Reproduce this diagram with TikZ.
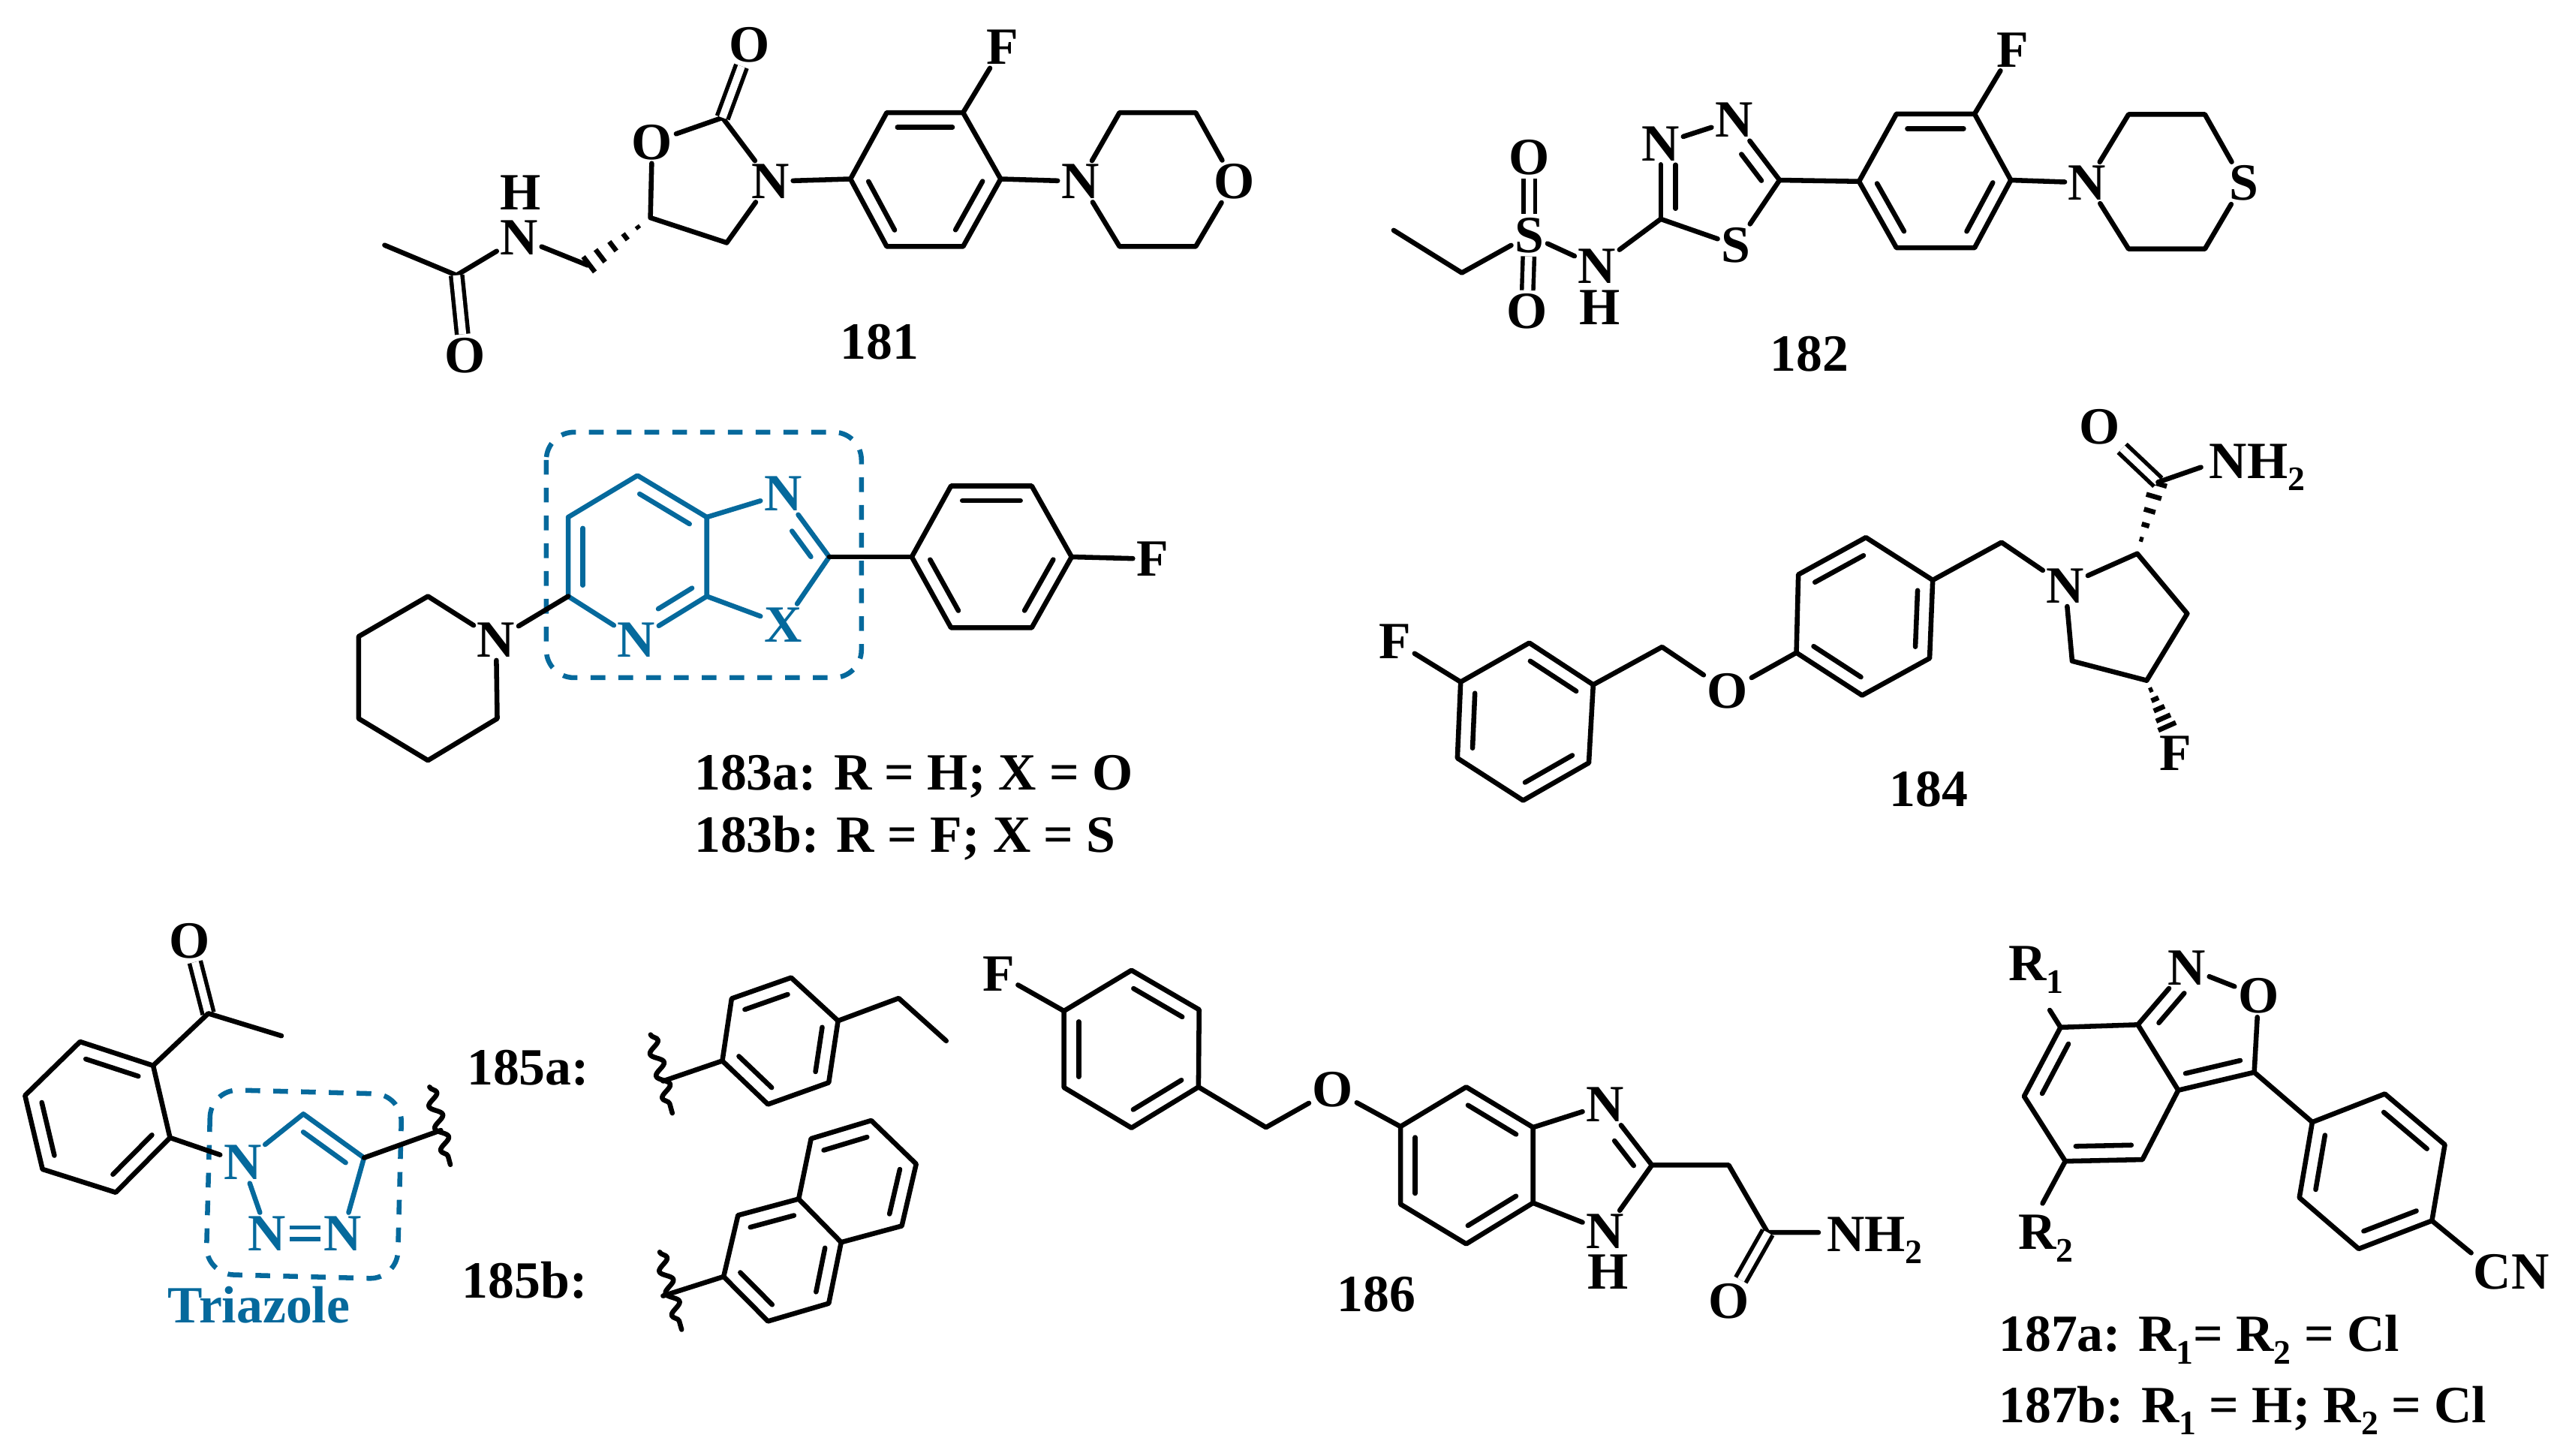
\documentclass[tikz,border=0pt]{standalone}
\usepackage{fontspec}
\setmainfont{Liberation Serif}
\usetikzlibrary{calc,decorations.pathmorphing}
\definecolor{ringblue}{HTML}{05699C}
\tikzset{
  bond/.style={line width=3pt,line join=round,line cap=round},
  dbond/.style={bond,line width=2.5pt,double,double distance=4.5pt,line cap=butt},
  atom/.style={font=\fontsize{32}{32}\selectfont\bfseries,inner sep=2pt},
  txt/.style={font=\fontsize{32}{32}\selectfont\bfseries,inner sep=0pt},
  wavy/.style={bond,decorate,decoration={snake,segment length=14pt,amplitude=3.5pt}},
  dashbox/.style={line width=3pt,ringblue,dash pattern=on 9pt off 8pt,rounded corners=17pt}
}
\newcommand{\subs}[1]{\raisebox{-0.24em}{\fontsize{21}{21}\selectfont #1}}
\NewDocumentCommand{\innerbond}{O{.14} O{.86} m m}{
  \draw[bond] ($(#3)!#1!(#4)!9pt!-90:(#4)$) -- ($(#3)!#2!(#4)!9pt!-90:(#4)$);
}
\newcommand{\hashbond}[2]{
  \foreach \t in {.2,.4,.6,.8,.98}
    \draw[bond,line cap=butt] ($(#1)!\t!(#2)!{\t*6pt}!90:(#2)$) -- ($(#1)!\t!(#2)!{\t*6pt}!-90:(#2)$);
}
\begin{document}
\begin{tikzpicture}[x=1pt,y=-1pt]
\useasboundingbox (0,0) rectangle (1568,890.3);

% 181
\foreach \n/\px/\py in {a1/542.5/68.9,a2/589.2/68.9,a3/612.2/109.5,a4/589.2/150.8,a5/542.5/150.8,a6/520.3/109.5,
  b1/684.9/68.9,b2/731.5/68.9,b3/731.5/150.8,b4/684.9/150.8,
  c1/235.3/150,c2/279.3/168.4,c3/359.6/162.3,c4/397.9/133.2,c5/442/72,c6/444.6/148.5}
  \coordinate (\n) at (\px,\py);
\node[atom] (o1) at (284.3,217.4) {O};
\node[atom] (n1) at (317.6,145.4) {N};
\node[atom] (h1) at (318.3,117.9) {H};
\node[atom] (o2) at (399,87) {O};
\node[atom] (o3) at (458.4,27.6) {O};
\node[atom] (n2) at (471.4,111) {N};
\node[atom] (f1) at (613.3,29) {F};
\node[atom] (n3) at (660.8,111) {N};
\node[atom] (o4) at (754.9,111) {O};
\node[txt] (lab181) at (538,209) {181};
\draw[bond] (c1) -- (c2) -- (n1) -- (c3);
\draw[dbond] (c2) -- (o1);
\hashbond{c4}{c3}
\draw[bond] (o2) -- (c4) -- (c6) -- (n2) -- (c5) -- (o2);
\draw[dbond] (c5) -- (o3);
\draw[bond] (n2) -- (a6);
\draw[bond] (a1) -- (a2) -- (a3) -- (a4) -- (a5) -- (a6) -- cycle;
\innerbond{a1}{a2} \innerbond{a3}{a4} \innerbond{a5}{a6}
\draw[bond] (a2) -- (f1);
\draw[bond] (a3) -- (n3);
\draw[bond] (n3) -- (b1) -- (b2) -- (o4) -- (b3) -- (b4) -- (n3);

% 182
\foreach \n/\px/\py in {d1/1160.2/69.7,d2/1208/69.7,d3/1230.2/110.2,d4/1208/151.6,d5/1160.2/151.6,d6/1137.3/111,
  e1/1302.2/70,e2/1348.9/70,e3/1348.9/152.3,e4/1302.2/152.3,
  g1/852.6/140.9,g2/894.3/166.9,g3/1016/134,g4/1088.7/110.2}
  \coordinate (\n) at (\px,\py);
\node[atom] (s1) at (935.6,143.9) {S};
\node[atom] (o5) at (935.6,96.5) {O};
\node[atom] (o6) at (934.1,190.6) {O};
\node[atom] (n4) at (977,163) {N};
\node[atom] (h2) at (978.9,188) {H};
\node[atom] (n5) at (1016,88) {N};
\node[atom] (n6) at (1060.8,73.5) {N};
\node[atom] (s2) at (1061.9,150) {S};
\node[atom] (f2) at (1231.4,30.6) {F};
\node[atom] (n7) at (1276.9,111.8) {N};
\node[atom] (s3) at (1372.6,112) {S};
\node[txt] (lab182) at (1107,216.6) {182};
\draw[bond] (g1) -- (g2) -- (s1);
\draw[dbond] (s1) -- (o5);
\draw[dbond] (s1) -- (o6);
\draw[bond] (s1) -- (n4) -- (g3) -- (s2) -- (g4);
\draw[bond] (g3) -- (n5);
\draw[bond] (n5) -- (n6) -- (g4);
\innerbond[.14][.72]{g3}{n5} \innerbond[.42][.86]{n6}{g4}
\draw[bond] (g4) -- (d6);
\draw[bond] (d1) -- (d2) -- (d3) -- (d4) -- (d5) -- (d6) -- cycle;
\innerbond{d1}{d2} \innerbond{d3}{d4} \innerbond{d5}{d6}
\draw[bond] (d2) -- (f2);
\draw[bond] (d3) -- (n7);
\draw[bond] (n7) -- (e1) -- (e2) -- (s3) -- (e3) -- (e4) -- (n7);

% 183
\draw[dashbox] (334.2,264.4) rectangle (527,414.6);
\foreach \n/\px/\py in {i1/390/290.9,i2/432.4/316.4,i3/432.4/364.8,i4/347.6/364.8,i5/347.6/316.4,i6/507.3/340.7,
  j1/581.8/297.3,j2/631.2/297.3,j3/655.6/340.7,j4/631.2/384,j5/581.8/384,j6/557.8/340.7,
  k1/261.8/364.8,k2/219.4/389.4,k3/219.4/439.6,k4/261.8/465.2,k5/304.2/439.6}
  \coordinate (\n) at (\px,\py);
\begin{scope}[ringblue]
\node[atom] (n8) at (389.3,391.3) {N};
\node[atom] (n9) at (479,302.2) {N};
\node[atom] (x1) at (479,382.1) {X};
\draw[bond] (i5) -- (i1) -- (i2) -- (i3) -- (n8) -- (i4) -- (i5);
\innerbond{i1}{i2} \innerbond[.1][.58]{i3}{n8} \innerbond{i4}{i5}
\draw[bond] (i2) -- (n9) -- (i6) -- (x1) -- (i3);
\innerbond[.45][.86]{n9}{i6}
\end{scope}
\node[atom] (n10) at (303.5,391.3) {N};
\node[atom] (f3) at (705,342) {F};
\draw[bond] (i4) -- (n10);
\draw[bond] (i6) -- (j6);
\draw[bond] (j1) -- (j2) -- (j3) -- (j4) -- (j5) -- (j6) -- cycle;
\innerbond{j1}{j2} \innerbond{j3}{j4} \innerbond{j5}{j6}
\draw[bond] (j3) -- (f3);
\draw[bond] (n10) -- (k1) -- (k2) -- (k3) -- (k4) -- (k5) -- (n10);
\node[txt,anchor=base west] (lab183a) at (424.6,483.4) {183a: R = H; X = O};
\node[txt,anchor=base west] (lab183b) at (424.6,521.4) {183b: R = F; X = S};

% 184
\foreach \n/\px/\py in {l1/935.6/393.3,l2/974.7/418.9,l3/972/466.7,l4/931.8/489.7,l5/891.6/463.8,l6/893.6/417.2,
  m1/1100.2/351.5,m2/1141.5/328.8,m3/1182.4/354.9,m4/1180.5/402.7,m5/1139.2/425.4,m6/1099/399.3,
  q1/1016.8/395.8,q2/1224.5/331.8,q3/1307.5/338.7,q4/1338.1/375.4,q5/1313.3/416.3,q6/1267.7/404.4,
  q7/1320.2/295,q8/1326/445}
  \coordinate (\n) at (\px,\py);
\node[atom] (f4) at (853.4,392.4) {F};
\node[atom] (o7) at (1056.9,422.8) {O};
\node[atom] (n11) at (1263.5,358.3) {N};
\node[atom] (o8) at (1284.6,261.3) {O};
\node[atom] (f5) at (1330.9,460.7) {F};
\node[atom,anchor=base west,inner sep=5pt] (amid1) at (1346.5,292.5) {NH\subs{2}};
\node[txt] (lab184) at (1180,482.9) {184};
\draw[bond] (l1) -- (l2) -- (l3) -- (l4) -- (l5) -- (l6) -- cycle;
\innerbond{l1}{l2} \innerbond{l3}{l4} \innerbond{l5}{l6}
\draw[bond] (l6) -- (f4);
\draw[bond] (l2) -- (q1) -- (o7) -- (m6);
\draw[bond] (m1) -- (m2) -- (m3) -- (m4) -- (m5) -- (m6) -- cycle;
\innerbond{m1}{m2} \innerbond{m3}{m4} \innerbond{m5}{m6}
\draw[bond] (m3) -- (q2) -- (n11) -- (q3) -- (q4) -- (q5) -- (q6) -- (n11);
\hashbond{q3}{q7}
\draw[dbond] (q7) -- (o8);
\draw[bond] (q7) -- (amid1.west);
\hashbond{q5}{q8}

% 185
\foreach \n/\px/\py in {r1/49/637.3,r2/93.7/651.9,r3/104/696,r4/70.8/729.5,r5/26/715.3,r6/15.3/670.2,
  r7/127.4/620,r8/172.2/633.7,t1/185.6/681.5,t2/222.7/708.3,t3/269.7/691.5,
  w1/262.8/665,w2/275.5/712.5}
  \coordinate (\n) at (\px,\py);
\draw[dashbox,rotate around={-1.5:(186,725)}] (127.4,668) rectangle (244.5,781);
\node[atom] (o9) at (116,575.6) {O};
\begin{scope}[ringblue]
\node[atom] (n12) at (148.4,711.2) {N};
\node[atom] (n13) at (163.4,754.5) {N};
\node[atom] (n14) at (209.7,754.5) {N};
\draw[bond] (n12) -- (t1) -- (t2) -- (n14);
\innerbond[.14][.84]{t1}{t2}
\draw[dbond] (n14) -- (n13);
\draw[bond] (n13) -- (n12);
\end{scope}
\draw[bond] (r1) -- (r2) -- (r3) -- (r4) -- (r5) -- (r6) -- cycle;
\innerbond{r1}{r2} \innerbond{r3}{r4} \innerbond{r5}{r6}
\draw[dbond] (r7) -- (o9);
\draw[bond] (r2) -- (r7) -- (r8);
\draw[bond] (r3) -- (n12);
\draw[bond] (t2) -- (t3);
\draw[wavy] (w1) -- (w2);
\node[txt,anchor=base west,ringblue] (labtri) at (102.5,809.2) {Triazole};
\node[txt,anchor=base west] (lab185a) at (285.5,663.8) {185a:};
\node[txt,anchor=base west] (lab185b) at (282.5,794.1) {185b:};
% 185a
\foreach \n/\px/\py in {u1/447.6/610.9,u2/484/598.1,u3/512.7/624.5,u4/507/662.3,u5/469.8/675.6,u6/441.9/649,
  u7/549.8/610.7,u8/578.9/636.8,u9/405.6/661.4,w3/398/633,w4/411.3/681}
  \coordinate (\n) at (\px,\py);
\draw[bond] (u1) -- (u2) -- (u3) -- (u4) -- (u5) -- (u6) -- cycle;
\innerbond{u1}{u2} \innerbond{u3}{u4} \innerbond{u5}{u6}
\draw[bond] (u3) -- (u7) -- (u8);
\draw[bond] (u6) -- (u9);
\draw[wavy] (w3) -- (w4);
% 185b
\foreach \n/\px/\py in {v1/451.5/743.5,v2/488.6/733.5,v3/514.6/760,v4/507/797.4,v5/469.8/808.3,v6/442.7/781,
  v7/496.2/696.6,v8/533/685.5,v9/560.5/712.1,v10/551.7/750,v11/405.6/792.8,w5/403.6/766,w6/417/813.4}
  \coordinate (\n) at (\px,\py);
\draw[bond] (v1) -- (v2) -- (v3) -- (v4) -- (v5) -- (v6) -- cycle;
\draw[bond] (v2) -- (v7) -- (v8) -- (v9) -- (v10) -- (v3);
\innerbond{v1}{v2} \innerbond{v3}{v4} \innerbond{v5}{v6}
\innerbond{v7}{v8} \innerbond{v9}{v10}
\draw[bond] (v6) -- (v11);
\draw[wavy] (w5) -- (w6);

% 186
\foreach \n/\px/\py in {y1/692.2/593.6,y2/733.6/617.7,y3/733.2/665,y4/692.2/690,y5/650.9/665.3,y6/650.9/618.5,
  y7/774.5/689.7,z1/897/665,z2/937.9/689.7,z3/937.9/735.9,z4/897/761,z5/856.8/736.7,z6/856.8/689.2,
  z7/1010.6/712.8,z8/1057.6/712.8,z9/1081.4/754}
  \coordinate (\n) at (\px,\py);
\node[atom] (f6) at (610.8,595.8) {F};
\node[atom] (o10) at (815.4,666.6) {O};
\node[atom] (n15) at (981.9,675.7) {N};
\node[atom] (n16) at (981.9,753.2) {N};
\node[atom] (h3) at (983.8,777.9) {H};
\node[atom] (o11) at (1057.6,796) {O};
\node[atom,anchor=base west,inner sep=5pt] (amid2) at (1112.5,765.5) {NH\subs{2}};
\node[txt] (lab186) at (842,791.9) {186};
\draw[bond] (y1) -- (y2) -- (y3) -- (y4) -- (y5) -- (y6) -- cycle;
\innerbond{y1}{y2} \innerbond{y3}{y4} \innerbond{y5}{y6}
\draw[bond] (y6) -- (f6);
\draw[bond] (y3) -- (y7) -- (o10) -- (z6);
\draw[bond] (z1) -- (z2) -- (z3) -- (z4) -- (z5) -- (z6) -- cycle;
\innerbond{z1}{z2} \innerbond{z3}{z4} \innerbond{z5}{z6}
\draw[bond] (z2) -- (n15) -- (z7) -- (n16) -- (z3);
\innerbond[.45][.86]{n15}{z7}
\draw[bond] (z7) -- (z8) -- (z9) -- (amid2.west |- z9);
\draw[dbond] (z9) -- (o11);

% 187
\foreach \n/\px/\py in {aa1/1307.9/626.9,aa2/1332.6/667,aa3/1310.7/709.4,aa4/1263.5/710.4,aa5/1238.3/670.7,aa6/1260.6/628.5,
  aa7/1379.1/656,bb1/1414.6/686.5,bb2/1459/669.2,bb3/1495.7/700.3,bb4/1487.8/746.8,bb5/1443/764,bb6/1406.7/732.7,
  re1/1254/618,re2/1249.6/736.2,ce1/1511.8/766.5}
  \coordinate (\n) at (\px,\py);
\node[atom] (n17) at (1337.8,592) {N};
\node[atom] (o12) at (1381.7,609.3) {O};
\node[atom,anchor=base west,inner sep=0pt] (r1lab) at (1228.7,600) {R\subs{1}};
\node[atom,anchor=base west,inner sep=0pt] (r2lab) at (1234.7,764.4) {R\subs{2}};
\node[atom,anchor=base west,inner sep=0pt] (cn) at (1513,788.7) {CN};
\draw[bond] (aa1) -- (aa2) -- (aa3) -- (aa4) -- (aa5) -- (aa6) -- cycle;
\innerbond{aa3}{aa4} \innerbond{aa5}{aa6}
\draw[bond] (aa1) -- (n17) -- (o12) -- (aa7) -- (aa2);
\innerbond[.2][.72]{aa1}{n17} \innerbond{aa7}{aa2}
\draw[bond] (aa7) -- (bb1);
\draw[bond] (bb1) -- (bb2) -- (bb3) -- (bb4) -- (bb5) -- (bb6) -- cycle;
\innerbond{bb2}{bb3} \innerbond{bb4}{bb5} \innerbond{bb6}{bb1}
\draw[bond] (aa6) -- (re1);
\draw[bond] (aa4) -- (re2);
\draw[bond] (bb4) -- (ce1);
\node[txt,anchor=base west] (lab187a) at (1222.7,826.8) {187a: R\subs{1}= R\subs{2} = Cl};
\node[txt,anchor=base west] (lab187b) at (1222.7,870.2) {187b: R\subs{1} = H; R\subs{2} = Cl};
\end{tikzpicture}
\end{document}
